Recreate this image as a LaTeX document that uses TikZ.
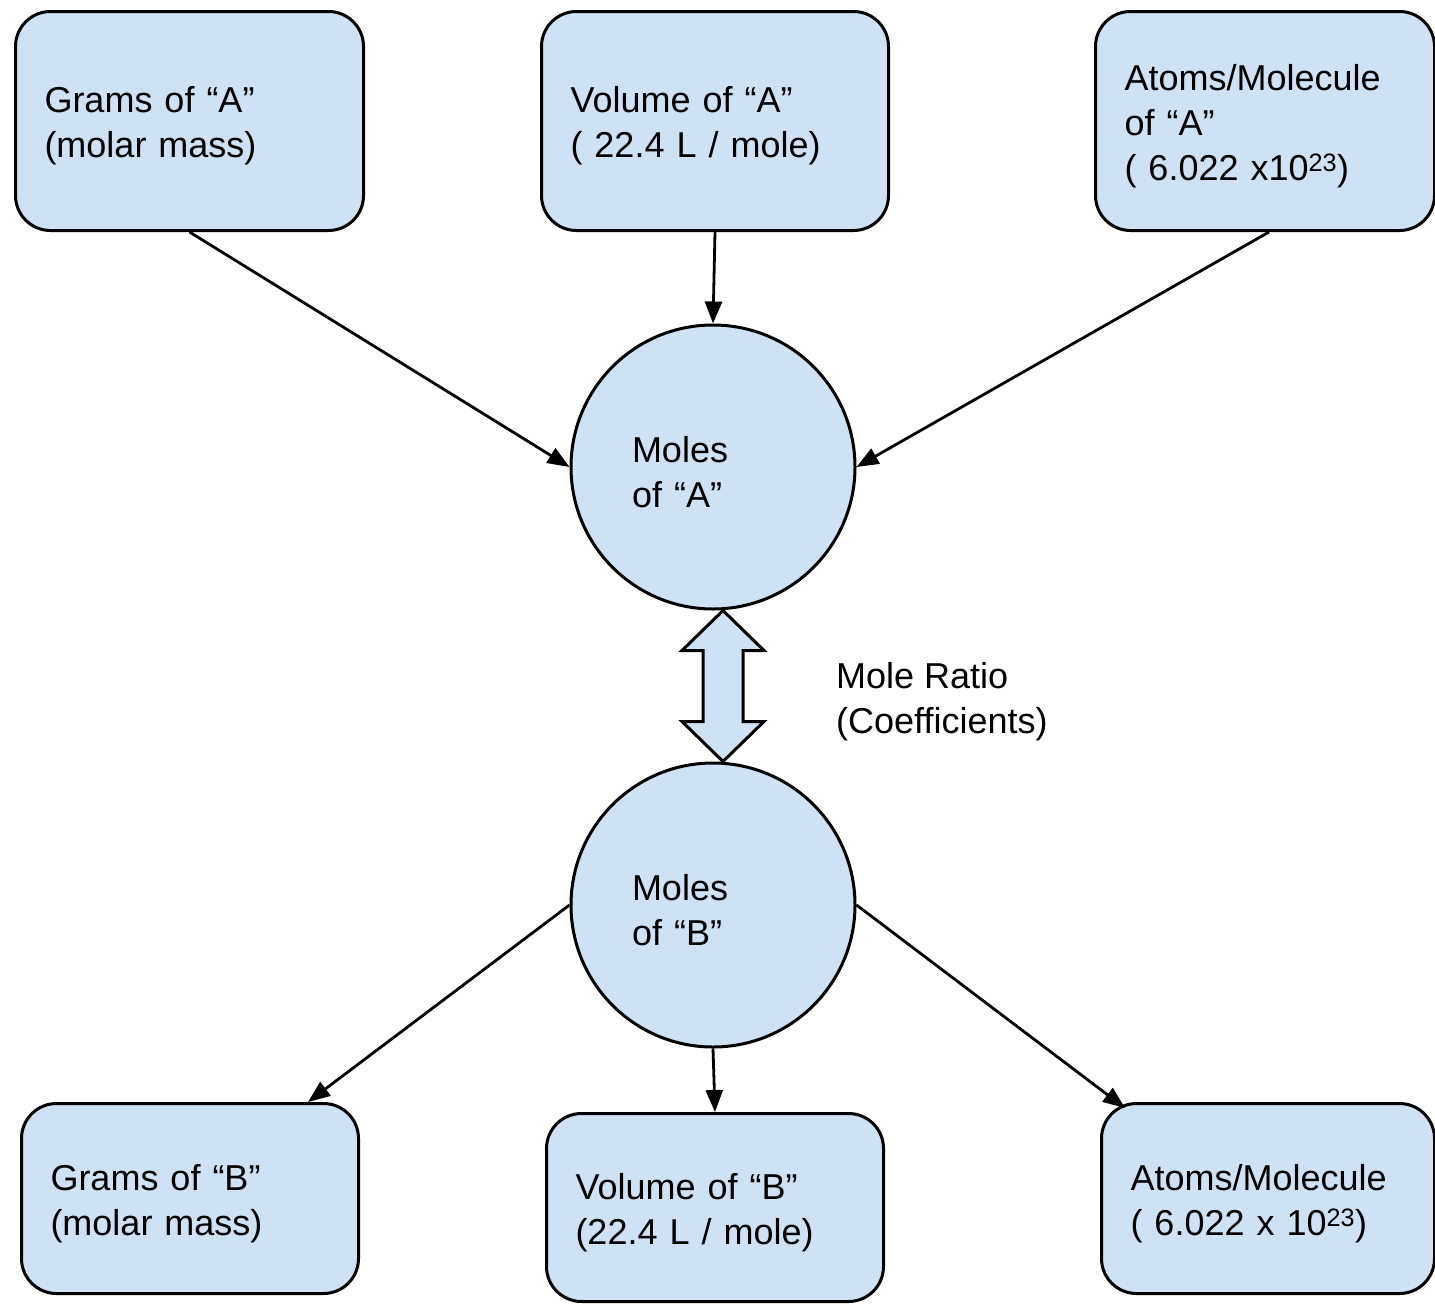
\documentclass[tikz,border=0pt]{standalone}
\usepackage{fontspec}
\setmainfont{Liberation Sans}
\usetikzlibrary{arrows.meta,calc}
\definecolor{boxfill}{HTML}{CFE2F3}
\begin{document}
\begin{tikzpicture}[x=1pt,y=-1pt,
  font=\fontsize{36}{45}\selectfont,
  box/.style={draw=black, line width=3pt, fill=boxfill, rounded corners=35pt,
    inner xsep=29pt, inner ysep=0pt, align=left, anchor=north west},
  circ/.style={draw=black, line width=3pt, fill=boxfill, circle,
    minimum size=284pt, inner sep=0pt, text width=162pt, align=left},
  conn/.style={line width=2.8pt, -{Triangle[length=22pt,width=17pt]}},
  plain/.style={align=left, inner sep=0pt, anchor=west}]
\useasboundingbox (0,0) rectangle (1435,1304);

% top boxes
\node[box, text width=290pt, minimum height=219pt] (gA) at (14,10)
  {\rule{0pt}{36pt}Grams of “A”\\(molar mass)};
\node[box, text width=289pt, minimum height=219pt] (vA) at (540,10)
  {\rule{0pt}{36pt}Volume of “A”\\( 22.4 L / mole)};
\node[box, text width=281pt, minimum height=219pt] (aA) at (1094,10)
  {\rule{0pt}{36pt}Atoms/Molecule\\of “A”\\( 6.022 x10\textsuperscript{23})};

% circles
\node[circ] (mA) at (713,467) {\rule{0pt}{36pt}Moles\\of “A”};
\node[circ] (mB) at (713,905) {\rule{0pt}{36pt}Moles\\of “B”};

% bottom boxes
\node[box, text width=279pt, minimum height=190pt] (gB) at (20,1102)
  {\rule{0pt}{36pt}Grams of “B”\\(molar mass)};
\node[box, text width=279pt, minimum height=188pt] (vB) at (545,1112)
  {\rule{0pt}{36pt}Volume of “B”\\(22.4 L / mole)};
\node[box, text width=275pt, minimum height=190pt] (aB) at (1100,1102)
  {\rule{0pt}{36pt}Atoms/Molecule\\( 6.022 x 10\textsuperscript{23})};

% mole ratio label
\node[plain] (mr) at (836,702) {Mole Ratio\\(Coefficients)};

% connectors
\draw[conn] (gA.south) -- (mA.west);
\draw[conn] (vA.south) -- (mA.north);
\draw[conn] ([xshift=4pt]aA.south) -- (mA.east);
\draw[conn] (mB.west) -- ([xshift=-52pt]gB.north east);
\draw[conn] (mB.south) -- (vB.north);
\draw[conn] (mB.east) -- ([xshift=25pt,yshift=-6pt]aB.north west);

% double block arrow
\coordinate (dt) at ([xshift=10pt]mA.south);
\coordinate (db) at ([xshift=10pt]mB.north);
\draw[line width=3pt, fill=boxfill, line join=miter]
  (dt) -- ++(41,40) -- ++(-21,0) -- ($(db)+(20,-40)$) -- ++(21,0) -- (db)
  -- ++(-41,-40) -- ++(21,0) -- ($(dt)+(-20,40)$) -- ++(-21,0) -- cycle;
\end{tikzpicture}
\end{document}
